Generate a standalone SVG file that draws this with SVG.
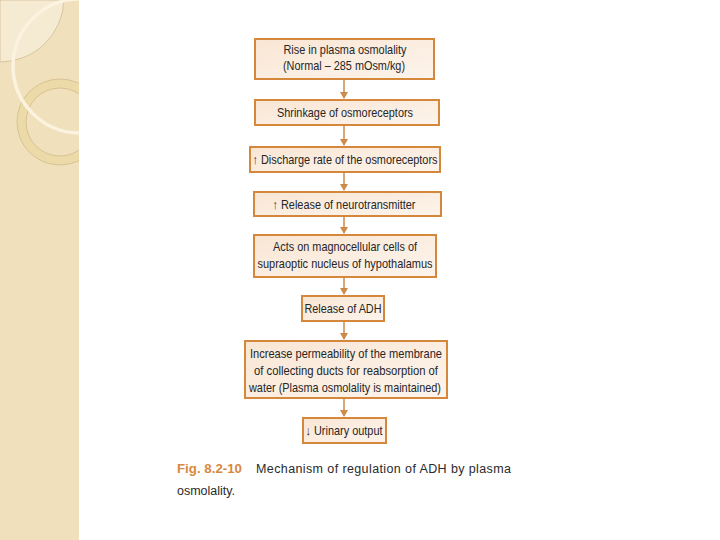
<svg xmlns="http://www.w3.org/2000/svg" width="720" height="540" viewBox="0 0 720 540">
<defs>
<style>
.box{fill:url(#bg);stroke:#d5873c;stroke-width:2}
.t{font-family:"Liberation Sans",Arial,sans-serif;font-size:13px;fill:#262626;text-anchor:middle}
.c{stroke:#cd8a48;stroke-width:1.5;fill:none}
.cap{font-family:"Liberation Sans",Arial,sans-serif;font-size:12.5px;fill:#2a2a2a}
</style>
<linearGradient id="bg" x1="0" y1="0" x2="1" y2="1">
<stop offset="0" stop-color="#f9e6d4"/>
<stop offset="1" stop-color="#fdf4ec"/>
</linearGradient>
<clipPath id="band"><rect x="0" y="0" width="79" height="540"/></clipPath>
</defs>
<rect width="720" height="540" fill="#ffffff"/>
<g id="sidebar" clip-path="url(#band)">
<rect x="0" y="0" width="79" height="540" fill="#f1e0bc"/>
<path d="M0,0 L64,0 A64,64 0 0 1 0,62 Z" fill="#f5ead2" stroke="#d2bd92" stroke-width="0.8"/>
<circle cx="60" cy="122" r="43" fill="#eddaa9" stroke="#d0ba8e" stroke-width="0.8"/>
<circle cx="60" cy="122" r="34" fill="#f1e0bc" stroke="#d0ba8e" stroke-width="0.8"/>
<circle cx="80" cy="66" r="67" fill="none" stroke="#fbf3df" stroke-width="3.5"/>
</g>
<g id="connectors">
<line class="c" x1="344" y1="80" x2="344" y2="98"/>
<path d="M340,92 L348,92 L344,99 Z" fill="#cd8a48"/>
<line class="c" x1="344" y1="126" x2="344" y2="145"/>
<path d="M340,139 L348,139 L344,146 Z" fill="#cd8a48"/>
<line class="c" x1="344" y1="173" x2="344" y2="190"/>
<path d="M340,184 L348,184 L344,191 Z" fill="#cd8a48"/>
<line class="c" x1="344" y1="217" x2="344" y2="233"/>
<path d="M340,227 L348,227 L344,234 Z" fill="#cd8a48"/>
<line class="c" x1="344" y1="278" x2="344" y2="294"/>
<path d="M340,288 L348,288 L344,295 Z" fill="#cd8a48"/>
<line class="c" x1="344" y1="322" x2="344" y2="339"/>
<path d="M340,333 L348,333 L344,340 Z" fill="#cd8a48"/>
<line class="c" x1="344" y1="399" x2="344" y2="416"/>
<path d="M340,410 L348,410 L344,417 Z" fill="#cd8a48"/>
</g>
<g id="n1">
<rect class="box" x="255" y="39" width="179" height="40"/>
<text class="t" x="345" y="54" textLength="123" lengthAdjust="spacingAndGlyphs">Rise in plasma osmolality</text>
<text class="t" x="344" y="70" textLength="122" lengthAdjust="spacingAndGlyphs">(Normal – 285 mOsm/kg)</text>
</g>
<g id="n2">
<rect class="box" x="255" y="100" width="184" height="25"/>
<text class="t" x="345" y="117" textLength="136" lengthAdjust="spacingAndGlyphs">Shrinkage of osmoreceptors</text>
</g>
<g id="n3">
<rect class="box" x="250" y="147" width="190" height="25"/>
<text class="t" x="345" y="164" textLength="185" lengthAdjust="spacingAndGlyphs">↑ Discharge rate of the osmoreceptors</text>
</g>
<g id="n4">
<rect class="box" x="254" y="192" width="187" height="24"/>
<text class="t" x="344" y="209" textLength="143" lengthAdjust="spacingAndGlyphs">↑ Release of neurotransmitter</text>
</g>
<g id="n5">
<rect class="box" x="254" y="235" width="182" height="42"/>
<text class="t" x="345" y="251" textLength="144" lengthAdjust="spacingAndGlyphs">Acts on magnocellular cells of</text>
<text class="t" x="345" y="268" textLength="175" lengthAdjust="spacingAndGlyphs">supraoptic nucleus of hypothalamus</text>
</g>
<g id="n6">
<rect class="box" x="302" y="296" width="82" height="25"/>
<text class="t" x="343" y="313" textLength="77" lengthAdjust="spacingAndGlyphs">Release of ADH</text>
</g>
<g id="n7">
<rect class="box" x="245" y="341" width="202" height="57"/>
<text class="t" x="346" y="358" textLength="192" lengthAdjust="spacingAndGlyphs">Increase permeability of the membrane</text>
<text class="t" x="346" y="375" textLength="184" lengthAdjust="spacingAndGlyphs">of collecting ducts for reabsorption of</text>
<text class="t" x="345" y="392" textLength="192" lengthAdjust="spacingAndGlyphs">water (Plasma osmolality is maintained)</text>
</g>
<g id="n8">
<rect class="box" x="303" y="418" width="83" height="25"/>
<text class="t" x="344" y="435" textLength="77" lengthAdjust="spacingAndGlyphs">↓ Urinary output</text>
</g>
<g id="caption">
<text class="cap" x="177" y="473"><tspan fill="#d7893e" font-weight="bold" textLength="65" lengthAdjust="spacingAndGlyphs">Fig. 8.2-10</tspan></text>
<text class="cap" x="256" y="473" textLength="255" lengthAdjust="spacing">Mechanism of regulation of ADH by plasma</text>
<text class="cap" x="177" y="495" textLength="58" lengthAdjust="spacingAndGlyphs">osmolality.</text>
</g>
</svg>
